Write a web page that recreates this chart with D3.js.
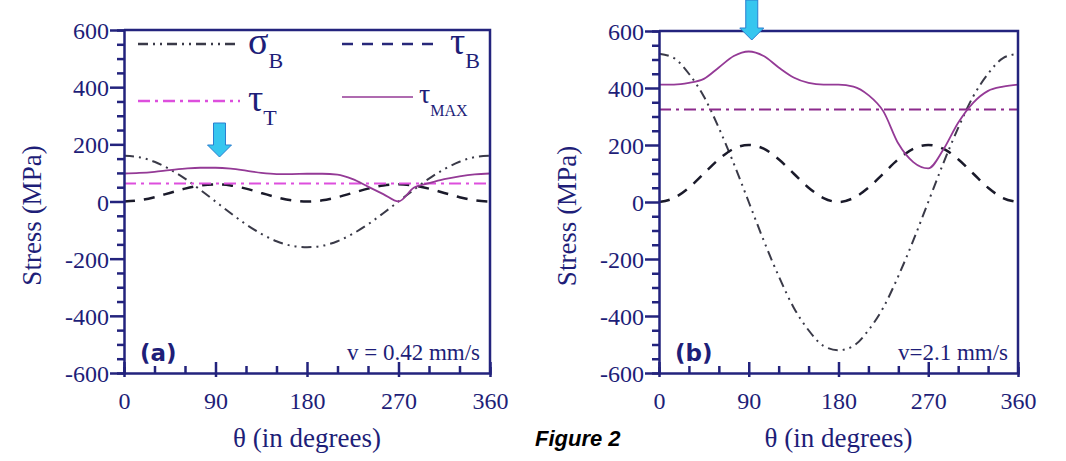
<!DOCTYPE html>
<html>
<head>
<meta charset="utf-8">
<script src="https://cdn.jsdelivr.net/npm/d3@7"></script>
<style>
  body { margin: 0; background: #fff; }
  text { font-family: "Liberation Serif", "DejaVu Serif", serif; fill: #1e1e78; }
</style>
</head>
<body>
<script>
// angles every 15 degrees
var theta = d3.range(0, 361, 15);

// panel (a) v = 0.42 mm/s
var sigmaA = [160, 155, 139, 113, 80, 41, 0, -41, -80, -113, -139, -155, -160,
              -155, -139, -113, -80, -41, 0, 41, 80, 113, 139, 155, 160];
var tauBA = [0, 4, 15, 30, 45, 56, 60, 56, 45, 30, 15, 4, 0,
             4, 15, 30, 45, 56, 60, 56, 45, 30, 15, 4, 0];
var tauTA = 63;
var tauMaxA = [98, 100, 104, 110, 115, 118, 118, 115, 108, 100, 96, 96, 97,
               97, 94, 78, 52, 26, 0, 48, 64, 78, 88, 95, 98];

// panel (b) v = 2.1 mm/s
var sigmaB = [520, 505, 450, 370, 260, 135, 0, -135, -260, -370, -450, -505, -520,
              -505, -450, -370, -260, -135, 0, 135, 260, 370, 450, 505, 520];
var tauBB = [0, 14, 50, 100, 150, 187, 200, 187, 150, 100, 50, 14, 0,
             14, 50, 100, 150, 187, 200, 187, 150, 100, 50, 14, 0];
var tauTB = 325;
var tauMaxB = [412, 412, 418, 432, 472, 512, 528, 512, 472, 437, 418, 412, 412,
               405, 375, 318, 205, 140, 118, 183, 278, 348, 390, 405, 412];

var xTicks = d3.range(0, 361, 30);
var xLabels = [0, 90, 180, 270, 360];
var yTicks = d3.range(-600, 601, 50);
var yLabels = [-600, -400, -200, 0, 200, 400, 600];

var axisColor = "#23237d";
var serif = "'Liberation Serif', 'DejaVu Serif', serif";

var svg = d3.select("body").append("svg")
    .attr("width", 1066)
    .attr("height", 461);

function drawPanel(opt) {
    var x = d3.scaleLinear().domain([0, 360]).range([opt.left, opt.right]);
    var y = d3.scaleLinear().domain([-600, 600]).range([opt.bottom, opt.top]);
    var g = svg.append("g");

    var line = d3.line()
        .x(function (d) { return x(d[0]); })
        .y(function (d) { return y(d[1]); })
        .curve(d3.curveMonotoneX);

    function pairs(vals) { return theta.map(function (t, i) { return [t, vals[i]]; }); }

    // curves
    g.append("path").datum(pairs(opt.sigma))
        .attr("d", line).attr("fill", "none")
        .attr("stroke", "#3a3a48").attr("stroke-width", 2)
        .attr("stroke-dasharray", "10,5,2,5,2,5");
    g.append("path").datum(pairs(opt.tauB))
        .attr("d", line).attr("fill", "none")
        .attr("stroke", "#1a1a2a").attr("stroke-width", 2.5)
        .attr("stroke-dasharray", "11,9");
    g.append("path").datum([[0, opt.tauT], [360, opt.tauT]])
        .attr("d", line).attr("fill", "none")
        .attr("stroke", opt.tauTColor).attr("stroke-width", 2)
        .attr("stroke-dasharray", "12,5,3,5");
    g.append("path").datum(pairs(opt.tauMax))
        .attr("d", line).attr("fill", "none")
        .attr("stroke", "#943a96").attr("stroke-width", 1.8);

    // frame
    g.append("path")
        .attr("d", "M" + x(0) + "," + y(600) + "H" + x(360) + "V" + y(-600))
        .attr("fill", "none").attr("stroke", axisColor).attr("stroke-width", 2.5);

    // y axis
    var yAxis = g.append("g").attr("transform", "translate(" + x(0) + ",0)")
        .call(d3.axisLeft(y).tickValues(yTicks).tickSize(7).tickFormat(""));
    yAxis.selectAll(".tick line")
        .attr("x2", function (d) { return yLabels.indexOf(d) >= 0 ? -14 : -7; })
        .attr("stroke-width", 2.5);
    yAxis.selectAll(".tick")
        .filter(function (d) { return yLabels.indexOf(d) >= 0; })
        .append("text")
        .attr("x", -15).attr("dy", "0.36em")
        .attr("text-anchor", "end")
        .style("font-family", serif)
        .style("font-size", "24px")
        .style("fill", "#1e1e78")
        .text(function (d) { return d; });

    // x axis
    var xAxis = g.append("g").attr("transform", "translate(0," + y(-600) + ")")
        .call(d3.axisBottom(x).tickValues(xTicks).tickSize(-6).tickFormat(""));
    xAxis.selectAll(".tick line")
        .attr("y1", function (d) { return xLabels.indexOf(d) >= 0 ? 4 : 0; })
        .attr("y2", function (d) { return xLabels.indexOf(d) >= 0 ? -11 : -7; })
        .attr("stroke-width", 2.5);
    xAxis.selectAll(".tick")
        .filter(function (d) { return xLabels.indexOf(d) >= 0; })
        .append("text")
        .attr("y", 36)
        .attr("text-anchor", "middle")
        .style("font-family", serif)
        .style("font-size", "24px")
        .style("fill", "#1e1e78")
        .text(function (d) { return d; });
    g.selectAll(".domain").attr("stroke", axisColor).attr("stroke-width", 2.5);
    g.selectAll(".tick line").attr("stroke", axisColor);

    // axis titles
    g.append("text")
        .attr("transform", "translate(" + (opt.left - 92) + "," + ((opt.top + opt.bottom) / 2 + 14) + ") rotate(-90)")
        .attr("text-anchor", "middle").attr("dy", "0.35em")
        .style("font-size", "27px")
        .text("Stress (MPa)");
    g.append("text")
        .attr("x", (opt.left + opt.right) / 2).attr("y", opt.bottom + 74)
        .attr("text-anchor", "middle")
        .style("font-size", "27px")
        .text("\u03b8 (in degrees)");

    // panel letter & speed
    g.append("text")
        .attr("x", x(0) + 16).attr("y", y(-600) - 12)
        .style("font-family", "'DejaVu Sans', Verdana, sans-serif")
        .style("font-weight", "bold")
        .style("font-size", "23px")
        .text(opt.letter);
    g.append("text")
        .attr("x", x(360) - 10).attr("y", y(-600) - 13)
        .attr("text-anchor", "end")
        .style("font-size", "23px")
        .text(opt.speed);

    // cyan arrow pointing at the peak
    var ax = x(90) + opt.arrowDx, at = opt.arrowTop, ab = opt.arrowTip;
    var sw = 6, hw = 12, hh = 12;
    g.append("path")
        .attr("d", "M" + (ax - sw) + "," + at + "V" + (ab - hh) + "H" + (ax - hw) +
            "L" + ax + "," + ab + "L" + (ax + hw) + "," + (ab - hh) + "H" + (ax + sw) + "V" + at + "Z")
        .attr("fill", "#36c6ef").attr("stroke", "#2a7fd0").attr("stroke-width", 1);

    return { x: x, y: y, g: g };
}

var pa = drawPanel({
    left: 124, right: 490, top: 30, bottom: 373,
    sigma: sigmaA, tauB: tauBA, tauT: tauTA, tauMax: tauMaxA, tauTColor: "#dd4fdd",
    letter: "(a)", speed: "v = 0.42 mm/s", arrowDx: 4, arrowTop: 123, arrowTip: 157
});
var pb = drawPanel({
    left: 659, right: 1018, top: 31, bottom: 373,
    sigma: sigmaB, tauB: tauBB, tauT: tauTB, tauMax: tauMaxB, tauTColor: "#8c2a8c",
    letter: "(b)", speed: "v=2.1 mm/s", arrowDx: 3, arrowTop: 0, arrowTip: 40
});

// legend in panel (a)
var legend = [
    { label: "\u03c3", sub: "B", x: 138, y: 44, len: 102, color: "#3a3a48", dash: "10,5,2,5,2,5", w: 2.5, big: true },
    { label: "\u03c4", sub: "B", x: 342, y: 44, len: 100, color: "#28287a", dash: "11,9", w: 2.5, big: true },
    { label: "\u03c4", sub: "T", x: 138, y: 101, len: 102, color: "#dd4fdd", dash: "12,5,3,5", w: 2.5, big: true },
    { label: "\u03c4", sub: "MAX", x: 342, y: 97, len: 71, color: "#943a96", dash: null, w: 1.5, big: false }
];
var lg = pa.g.append("g");
legend.forEach(function (d) {
    lg.append("line")
        .attr("x1", d.x).attr("x2", d.x + d.len)
        .attr("y1", d.y).attr("y2", d.y)
        .attr("stroke", d.color).attr("stroke-width", d.w)
        .attr("stroke-dasharray", d.dash);
    var t = lg.append("text")
        .attr("x", d.x + d.len + (d.big ? 8 : 6)).attr("y", d.y + (d.big ? 10 : 6))
        .style("font-family", serif)
        .style("font-size", d.big ? "38px" : "28px")
        .text(d.label);
    t.append("tspan")
        .attr("dy", d.big ? 14 : 13)
        .style("font-size", d.big ? "22px" : "16px")
        .text(d.sub);
});

svg.append("text")
    .attr("x", 535).attr("y", 446)
    .style("font-family", "'Liberation Sans', Arial, sans-serif")
    .style("font-weight", "bold").style("font-style", "italic")
    .style("font-size", "22px").style("fill", "#000")
    .text("Figure 2");
</script>
</body>
</html>
